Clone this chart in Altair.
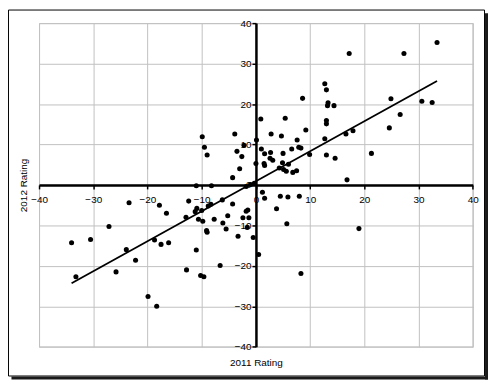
import altair as alt
import pandas as pd

# 2011 rating (x) and 2012 rating (y)
x2011 = [33.4, 27.3, 17.2, 12.7, 13.0, 8.6, 24.9, 13.3, 13.2, 14.4, 30.6, 32.5,
         0.9, 5.4, 13.0, 13.0, 9.2, 26.6, 24.6, 16.6, 17.9, 12.7, 2.8, 4.7,
         0.1, 7.6, 1.0, 1.6, 2.7, 5.0, 6.6, 7.9, 8.3, 9.9, 13.0, 14.6, 21.3,
         2.6, 3.1, 0.0, 1.5, 1.6, 4.9, 6.0, 4.3, 5.1, 5.6, 6.8, 7.5, 16.8,
         -9.9, -9.5, -9.0, -3.9, -3.5, -2.6, -3.0, -4.3, -2.2, -0.3, -1.0,
         -11.0, -8.2, -1.8,
         -23.4, -17.8, -16.5, -12.4, -11.2, -10.9, -10.0, -10.6, -9.8, -12.9,
         -8.8, -8.3, -7.7, -6.2, -4.3, -5.2, -6.1, -5.5, -9.1, -9.0, -3.3,
         -2.4, -1.8, -1.5, -1.3, -1.6, -0.5, -27.1, -34.0, -30.5, -23.9, -22.2,
         -18.7, -17.5, -16.1, -11.0, -12.8, -10.2, -9.6, -6.6, -25.8, -33.2,
         -19.9, -18.3,
         1.2, 1.6, 4.5, 5.9, 8.0, 3.8, 5.7, 0.5, 19.0, 8.3]
y2012 = [35.2, 32.5, 32.5, 25.0, 23.5, 21.4, 21.3, 20.3, 19.6, 19.6, 20.7, 20.4,
         16.3, 16.5, 15.9, 15.1, 13.6, 17.4, 14.1, 12.6, 13.4, 11.4, 12.6, 12.1,
         11.1, 11.1, 8.9, 7.7, 8.0, 7.8, 8.9, 9.3, 9.1, 7.5, 7.4, 6.6, 7.8,
         6.6, 6.1, 5.3, 5.3, 4.8, 5.5, 5.1, 4.2, 3.8, 3.4, 3.1, 3.5, 1.25,
         11.9, 9.3, 7.4, 12.6, 8.3, 7.0, 4.0, 1.8, 9.8, 0.4, 0.1,
         -0.2, -0.2, -0.4,
         -4.4, -5.0, -7.0, -4.0, -6.6, -5.8, -6.3, -8.5, -9.0, -8.0,
         -5.2, -4.8, -8.5, -3.7, -4.7, -7.6, -9.4, -10.9, -11.3, -11.7, -12.7,
         -8.1, -6.5, -6.2, -8.1, -10.5, -13.0, -10.3, -14.3, -13.5, -16.0, -18.6,
         -13.6, -14.7, -14.3, -16.1, -21.0, -22.4, -22.7, -19.9, -21.5, -22.7,
         -27.6, -30.0,
         -1.8, -3.3, -2.8, -3.0, -2.8, -5.9, -9.6, -17.2, -10.8, -21.9]
tick_values = [-40, -30, -20, -10, 0, 10, 20, 30, 40]

df = pd.DataFrame({"x": x2011, "y": y2012})

W, H = 437.4, 326.3
FONT = "Liberation Sans"

xscale = alt.Scale(domain=[-40, 40], nice=False, zero=False)
yscale = alt.Scale(domain=[-40, 40], nice=False, zero=False)

xaxis = alt.Axis(values=tick_values, grid=True, gridColor="#c0c0c0", gridWidth=1,
                 domainColor="black", domainWidth=2.5, tickColor="black",
                 tickSize=4, tickWidth=1.5, labelFont=FONT, labelFontSize=10,
                 labelColor="black", labelPadding=6, labelFlush=False,
                 labelOverlap=False, offset=-H / 2, title="2011 Rating",
                 titleFont=FONT, titleFontSize=10, titleFontWeight="normal",
                 titleColor="black", titleY=179, titleBaseline="middle")
yaxis = alt.Axis(values=tick_values, grid=True, gridColor="#c0c0c0", gridWidth=1,
                 domainColor="black", domainWidth=2.5, tickColor="black",
                 tickSize=4, tickWidth=1.5, labelFont=FONT, labelFontSize=10,
                 labelColor="black", labelPadding=1, labelFlush=False,
                 labelOverlap=False, offset=-W / 2, title="2012 Rating",
                 titleFont=FONT, titleFontSize=10, titleFontWeight="normal",
                 titleColor="black", titleX=-234, titleBaseline="middle")

base = alt.Chart(df)

points = base.mark_circle(color="black", opacity=1, size=26).encode(
    x=alt.X("x:Q", scale=xscale, axis=xaxis),
    y=alt.Y("y:Q", scale=yscale, axis=yaxis),
)

trend = base.transform_regression("x", "y").mark_line(
    color="black", strokeWidth=1.8
).encode(x="x:Q", y="y:Q")

one = pd.DataFrame({"a": [0]})
frame = alt.Chart(one).mark_rect(fillOpacity=0, stroke="black", strokeWidth=1).encode(
    x=alt.value(-30.8), x2=alt.value(449.2), y=alt.value(-13.2), y2=alt.value(355.8)
)
shadow_r = alt.Chart(one).mark_rule(color="#1a1a1a", strokeWidth=3).encode(
    x=alt.value(451.2), y=alt.value(-10), y2=alt.value(359.3)
)
shadow_b = alt.Chart(one).mark_rule(color="#1a1a1a", strokeWidth=3).encode(
    x=alt.value(-27.8), x2=alt.value(452.7), y=alt.value(357.8)
)

chart = alt.layer(points, trend, frame, shadow_r, shadow_b).properties(
    width=W, height=H,
    autosize=alt.AutoSizeParams(type="none"),
    padding={"left": 31.3, "top": 13.7, "right": 15.3, "bottom": 33},
    background="white",
).configure_view(stroke="#c0c0c0")

chart.save("out.html", embed_options={"renderer": "svg", "actions": False})
